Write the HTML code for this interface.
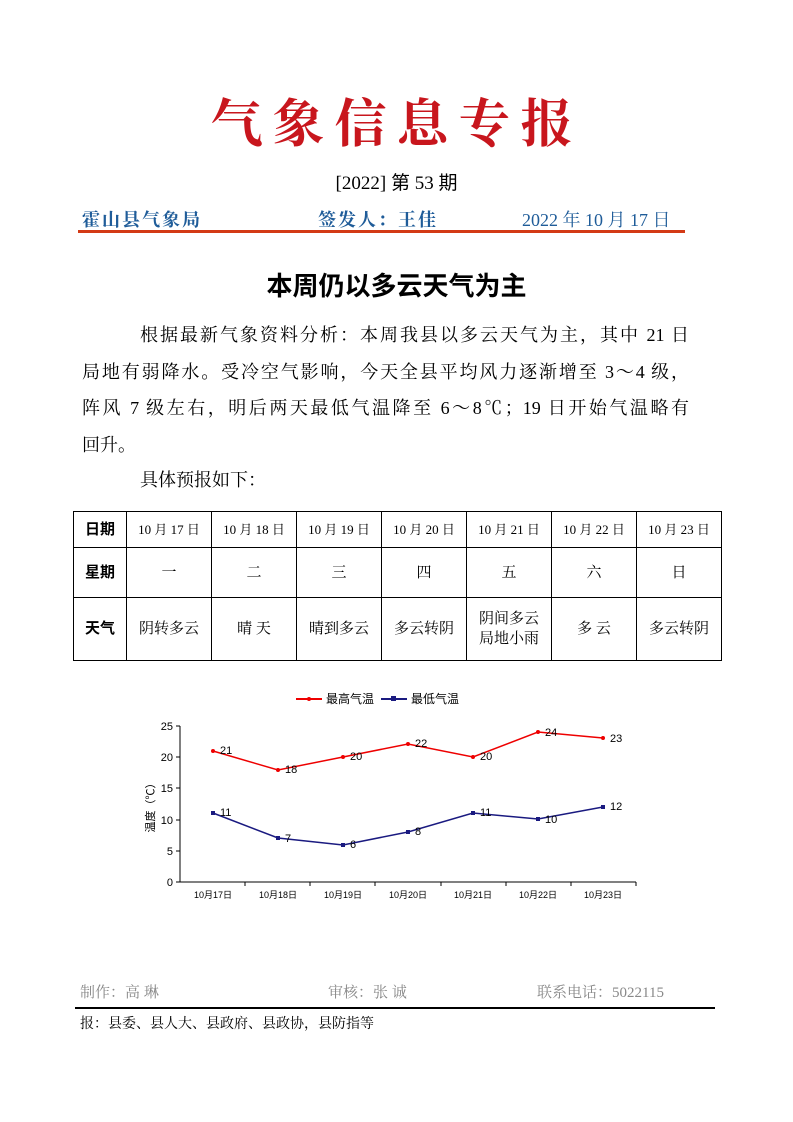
<!DOCTYPE html>
<html><head><meta charset="utf-8"><style>
body{margin:0;background:#fff;}
#p{position:relative;width:793px;height:1122px;overflow:hidden;font-family:"Liberation Serif","Noto Serif CJK SC",serif;color:#000;}
.a{position:absolute;white-space:nowrap;}
.ln{position:absolute;left:82px;width:607px;font-size:18px;text-align:justify;text-align-last:justify;white-space:nowrap;font-family:'Liberation Serif','Noto Serif CJK SC',serif;line-height:24px;}
table{position:absolute;left:73px;top:511px;border-collapse:collapse;}
td{border:1px solid #000;text-align:center;font-size:15px;padding:0;line-height:20px;}
td.d{font-size:13px;}
td.h{font-family:"Liberation Sans","Noto Sans CJK SC",sans-serif;font-weight:bold;font-size:15px;}
</style></head><body><div id="p">
<div class="a" style="left:0;width:793px;top:82px;text-align:center;font-size:52px;color:#c8161d;font-family:'Noto Serif CJK SC',serif;letter-spacing:10px;font-weight:bold;">气象信息专报</div>
<div class="a" style="left:0;width:793px;top:168px;text-align:center;font-size:19px;font-family:'Liberation Serif','Noto Sans CJK SC',serif;">[2022] 第 53 期</div>
<div class="a" style="left:82px;top:206px;font-size:18px;color:#1f5c99;font-family:'Noto Serif CJK SC',serif;font-weight:bold;letter-spacing:2px;">霍山县气象局</div>
<div class="a" style="left:318px;top:206px;font-size:18px;color:#1f5c99;font-family:'Noto Serif CJK SC',serif;font-weight:bold;letter-spacing:2px;">签发人：王佳</div>
<div class="a" style="left:522px;top:206px;font-size:18px;color:#1f5c99;font-family:'Liberation Serif','Noto Serif CJK SC',serif;">2022 年 10 月 17 日</div>
<div class="a" style="left:78px;top:230px;width:607px;height:3px;background:#d33a16;"></div>
<div class="a" style="left:0;width:793px;top:266px;text-align:center;font-size:26px;font-weight:bold;font-family:'Noto Sans CJK SC',sans-serif;">本周仍以多云天气为主</div>
<div class="ln" style="top:323px;left:140px;width:549px;">根据最新气象资料分析：本周我县以多云天气为主，其中 21 日</div>
<div class="ln" style="top:360px;">局地有弱降水。受冷空气影响，今天全县平均风力逐渐增至 3～4 级，</div>
<div class="ln" style="top:396px;">阵风 7 级左右，明后两天最低气温降至 6～8℃；19 日开始气温略有</div>
<div class="a" style="left:82px;top:432px;font-size:18px;line-height:24px;font-family:'Noto Serif CJK SC',serif;">回升。</div>
<div class="a" style="left:140px;top:466px;font-size:18px;font-family:'Noto Serif CJK SC',serif;">具体预报如下：</div>
<table>
<tr style="height:36px"><td class="h" style="width:52px">日期</td><td class="d" style="width:84px">10 月 17 日</td><td class="d" style="width:84px">10 月 18 日</td><td class="d" style="width:84px">10 月 19 日</td><td class="d" style="width:84px">10 月 20 日</td><td class="d" style="width:84px">10 月 21 日</td><td class="d" style="width:84px">10 月 22 日</td><td class="d" style="width:84px">10 月 23 日</td></tr>
<tr style="height:50px"><td class="h">星期</td><td>一</td><td>二</td><td>三</td><td>四</td><td>五</td><td>六</td><td>日</td></tr>
<tr style="height:63px"><td class="h">天气</td><td>阴转多云</td><td>晴 天</td><td>晴到多云</td><td>多云转阴</td><td>阴间多云<br>局地小雨</td><td>多 云</td><td>多云转阴</td></tr>
</table>
<svg class="a" style="left:0;top:0" width="793" height="1122" font-family="'Liberation Sans','Noto Sans CJK SC',sans-serif">
<g font-size="11" fill="#000">
<line x1="296" y1="699" x2="322" y2="699" stroke="#e00" stroke-width="2"/><circle cx="309" cy="699" r="2" fill="#e00"/>
<text x="326" y="703" font-size="12">最高气温</text>
<line x1="381" y1="699" x2="407" y2="699" stroke="#1a1a80" stroke-width="2"/><rect x="391" y="696" width="5" height="5" fill="#1a1a80"/>
<text x="411" y="703" font-size="12">最低气温</text>
</g>
<g stroke="#000" stroke-width="1">
<line x1="180" y1="726" x2="180" y2="882"/><line x1="180" y1="882" x2="636" y2="882"/>
<line x1="176" y1="726" x2="180" y2="726"/><line x1="176" y1="757" x2="180" y2="757"/><line x1="176" y1="788" x2="180" y2="788"/><line x1="176" y1="820" x2="180" y2="820"/><line x1="176" y1="851" x2="180" y2="851"/><line x1="176" y1="882" x2="180" y2="882"/>
<line x1="245" y1="882" x2="245" y2="886"/><line x1="310" y1="882" x2="310" y2="886"/><line x1="375" y1="882" x2="375" y2="886"/><line x1="441" y1="882" x2="441" y2="886"/><line x1="506" y1="882" x2="506" y2="886"/><line x1="571" y1="882" x2="571" y2="886"/><line x1="636" y1="882" x2="636" y2="886"/>
</g>
<g font-size="11" text-anchor="end"><text x="173" y="730">25</text><text x="173" y="761">20</text><text x="173" y="792">15</text><text x="173" y="824">10</text><text x="173" y="855">5</text><text x="173" y="886">0</text></g>
<text transform="translate(154,805) rotate(-90)" font-size="11" text-anchor="middle">温度（℃）</text>
<g font-size="9" text-anchor="middle"><text x="213" y="898">10月17日</text><text x="278" y="898">10月18日</text><text x="343" y="898">10月19日</text><text x="408" y="898">10月20日</text><text x="473" y="898">10月21日</text><text x="538" y="898">10月22日</text><text x="603" y="898">10月23日</text></g>
<polyline fill="none" stroke="#e00" stroke-width="1.5" points="213,751 278,770 343,757 408,744 473,757 538,732 603,738"/>
<g fill="#e00"><circle cx="213" cy="751" r="2"/><circle cx="278" cy="770" r="2"/><circle cx="343" cy="757" r="2"/><circle cx="408" cy="744" r="2"/><circle cx="473" cy="757" r="2"/><circle cx="538" cy="732" r="2"/><circle cx="603" cy="738" r="2"/></g>
<polyline fill="none" stroke="#1a1a80" stroke-width="1.5" points="213,813 278,838 343,845 408,832 473,813 538,819 603,807"/>
<g fill="#1a1a80"><rect x="211" y="811" width="4" height="4"/><rect x="276" y="836" width="4" height="4"/><rect x="341" y="843" width="4" height="4"/><rect x="406" y="830" width="4" height="4"/><rect x="471" y="811" width="4" height="4"/><rect x="536" y="817" width="4" height="4"/><rect x="601" y="805" width="4" height="4"/></g>
<g font-size="11"><text x="220" y="754">21</text><text x="285" y="773">18</text><text x="350" y="760">20</text><text x="415" y="747">22</text><text x="480" y="760">20</text><text x="545" y="736">24</text><text x="610" y="742">23</text>
<text x="220" y="816">11</text><text x="285" y="842">7</text><text x="350" y="848">6</text><text x="415" y="835">8</text><text x="480" y="816">11</text><text x="545" y="823">10</text><text x="610" y="810">12</text></g>
</svg>
<div class="a" style="left:80px;top:981px;font-size:15px;color:#888;font-family:'Noto Serif CJK SC',serif;">制作：高 琳</div>
<div class="a" style="left:328px;top:981px;font-size:15px;color:#888;font-family:'Noto Serif CJK SC',serif;">审核：张 诚</div>
<div class="a" style="left:537px;top:981px;font-size:15px;color:#888;font-family:'Liberation Serif','Noto Serif CJK SC',serif;">联系电话：5022115</div>
<div class="a" style="left:75px;top:1007px;width:640px;height:2px;background:#000;"></div>
<div class="a" style="left:80px;top:1013px;font-size:14px;font-family:'Noto Serif CJK SC',serif;">报：县委、县人大、县政府、县政协，县防指等</div>
</div></body></html>
